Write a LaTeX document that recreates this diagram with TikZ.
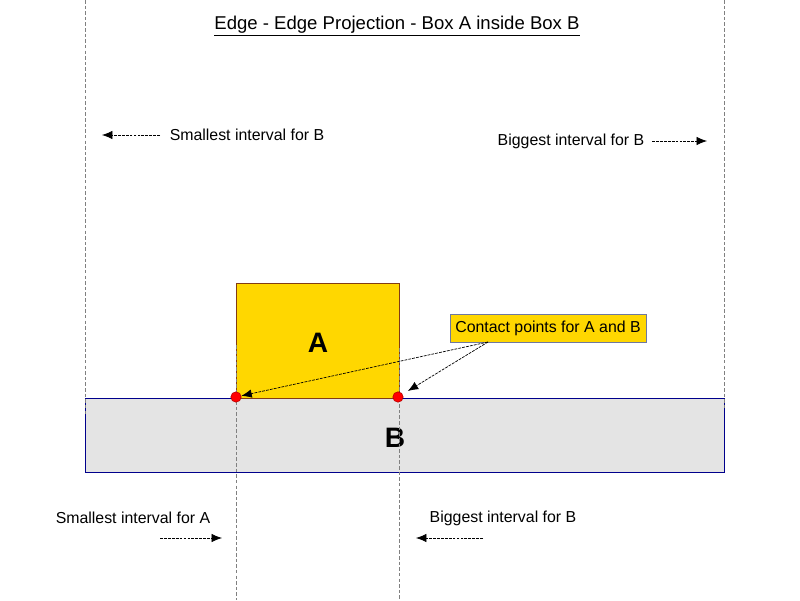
\documentclass[tikz,border=0pt]{standalone}
\usepackage{fontspec}
\setmainfont{Liberation Sans}
\usepackage{tikz}
\usetikzlibrary{arrows.meta, positioning}

\definecolor{boxgold}{RGB}{255,215,0}
\definecolor{boxgrey}{RGB}{228,228,228}
\definecolor{boxnavy}{RGB}{0,0,140}
\definecolor{edgebrown}{RGB}{130,60,20}
\definecolor{tagedge}{RGB}{110,120,160}
\definecolor{guide}{RGB}{128,128,128}

\tikzset{
  guideline/.style={guide, line width=0.5pt, dash pattern=on 2.5pt off 1.5pt},
  ptr/.style={-{Latex[length=2.6mm, width=2.1mm]}, line width=0.5pt, dash pattern=on 2pt off 0.8pt},
  lbl/.style={font=\fontsize{11.3}{13}\selectfont, inner sep=0pt},
  bigletter/.style={font=\fontsize{20}{24}\selectfont\bfseries, inner sep=0pt},
  dot/.style={circle, fill=red, draw=red!70!black, line width=0.4pt, minimum size=0.26cm, inner sep=0pt}
}

\begin{document}
\begin{tikzpicture}
    \useasboundingbox (0,0) rectangle (20,15);
    % boxes
    \node[draw=boxnavy, line width=0.6pt, fill=boxgrey, minimum width=15.975cm, minimum height=1.85cm, inner sep=0pt] (boxB) at (10.1125,4.125) {};
    \node[draw=edgebrown, line width=0.5pt, fill=boxgold, minimum width=4.075cm, minimum height=2.875cm, inner sep=0pt] (boxA) at (7.9375,6.4875) {};
    \node[bigletter] (labA) at (7.95,6.425) {A};
    \node[bigletter] (labB) at (9.875,4.05) {B};

    % projection guides
    \coordinate (gBtopL) at (2.125,15);
    \coordinate (gBbotL) at (2.125,4.6);
    \coordinate (gBtopR) at (18.1,15);
    \coordinate (gBbotR) at (18.1,4.8);
    \coordinate (gAtopL) at (5.9,6.375);
    \coordinate (gAbotL) at (5.9,0);
    \coordinate (gAtopR) at (9.975,6.3);
    \coordinate (gAbotR) at (9.975,0);
    \draw[guideline] (gBtopL) -- (gBbotL);
    \draw[guideline] (gBtopR) -- (gBbotR);
    \draw[guideline] (gAtopL) -- (gAbotL);
    \draw[guideline] (gAtopR) -- (gAbotR);

    % contact points
    \node[dot] (c1) at (5.9,5.075) {};
    \node[dot] (c2) at (9.95,5.075) {};
    \node[lbl, draw=tagedge, line width=0.5pt, fill=boxgold, minimum width=4.9cm, minimum height=0.7cm] (contact) at (13.7,6.8) {Contact points for A and B};
    \coordinate (cfoot) at (12.2,6.45);
    \draw[ptr] (cfoot) -- (c1);
    \draw[ptr, shorten >=0.15cm] (cfoot) -- (c2);

    % title
    \node[font=\fontsize{13.2}{16}\selectfont] (title) at (9.925,14.35) {\underline{Edge - Edge Projection - Box A inside Box B}};

    % interval labels
    \node[lbl] (sB) at (6.175,11.625) {Smallest interval for B};
    \coordinate (sBa) at (4.0,11.625);
    \coordinate (sBb) at (2.55,11.625);
    \draw[ptr] (sBa) -- (sBb);

    \node[lbl] (bB) at (14.275,11.475) {Biggest interval for B};
    \coordinate (bBa) at (16.3,11.475);
    \coordinate (bBb) at (17.675,11.475);
    \draw[ptr] (bBa) -- (bBb);

    \node[lbl] (sA) at (3.325,2.05) {Smallest interval for A};
    \coordinate (sAa) at (4.0,1.55);
    \coordinate (sAb) at (5.55,1.55);
    \draw[ptr] (sAa) -- (sAb);

    \node[lbl] (bB2) at (12.575,2.05) {Biggest interval for B};
    \coordinate (bB2a) at (12.075,1.55);
    \coordinate (bB2b) at (10.4,1.55);
    \draw[ptr] (bB2a) -- (bB2b);
\end{tikzpicture}
\end{document}
